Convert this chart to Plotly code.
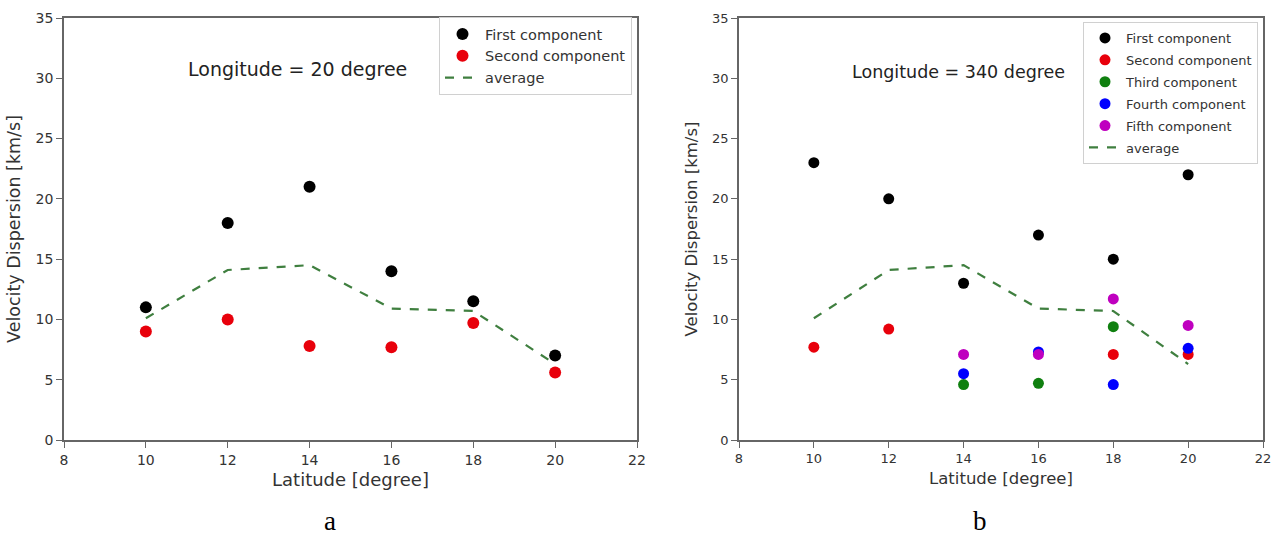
import plotly.graph_objects as go

latitudes = [10, 12, 14, 16, 18, 20]

# Panel a: Longitude = 20 degree
a_first = [11.0, 18.0, 21.0, 14.0, 11.5, 7.0]
a_second = [9.0, 10.0, 7.8, 7.7, 9.7, 5.6]
a_average = [10.1, 14.1, 14.5, 10.9, 10.7, 6.3]

# Panel b: Longitude = 340 degree
b_first_x = [10, 12, 14, 16, 18, 20]
b_first = [23.0, 20.0, 13.0, 17.0, 15.0, 22.0]
b_second_x = [10, 12, 18, 20]
b_second = [7.7, 9.2, 7.1, 7.1]
b_third_x = [14, 16, 18]
b_third = [4.6, 4.7, 9.4]
b_fourth_x = [14, 16, 18, 20]
b_fourth = [5.5, 7.3, 4.6, 7.6]
b_fifth_x = [14, 16, 18, 20]
b_fifth = [7.1, 7.1, 11.7, 9.5]
b_average = [10.1, 14.1, 14.5, 10.9, 10.7, 6.3]

x_ticks = [8, 10, 12, 14, 16, 18, 20, 22]
y_ticks = [0, 5, 10, 15, 20, 25, 30, 35]

BLACK = "#000000"
RED = "#e8000b"
GREEN = "#108010"
BLUE = "#0000ff"
MAGENTA = "#bf00bf"
AVG = "#3f7f3f"
FONT = "DejaVu Sans"
TXT = "#333333"

fig = go.Figure()

def pts(x, y, name, color, xa, ya, legend, size):
    fig.add_trace(go.Scatter(x=x, y=y, mode="markers", name=name,
                             marker=dict(color=color, size=size),
                             legendgroup=legend + name,
                             xaxis=xa, yaxis=ya, legend=legend))

def avg(x, y, xa, ya, legend):
    fig.add_trace(go.Scatter(x=x, y=y, mode="lines", name="average",
                             line=dict(color=AVG, width=2.2, dash="dash"),
                             legendgroup=legend + "average",
                             xaxis=xa, yaxis=ya, legend=legend))

pts(latitudes, a_first, "First component", BLACK, "x", "y", "legend", 12)
pts(latitudes, a_second, "Second component", RED, "x", "y", "legend", 12)
avg(latitudes, a_average, "x", "y", "legend")

pts(b_first_x, b_first, "First component", BLACK, "x2", "y2", "legend2", 11)
pts(b_second_x, b_second, "Second component", RED, "x2", "y2", "legend2", 11)
pts(b_third_x, b_third, "Third component", GREEN, "x2", "y2", "legend2", 11)
pts(b_fourth_x, b_fourth, "Fourth component", BLUE, "x2", "y2", "legend2", 11)
pts(b_fifth_x, b_fifth, "Fifth component", MAGENTA, "x2", "y2", "legend2", 11)
avg(latitudes, b_average, "x2", "y2", "legend2")

W, H = 1274, 538
ydom = [98 / H, 1 - 18 / H]

def axis_common(fs):
    return dict(showline=True, linecolor="#666666", linewidth=1.5, mirror=True,
                ticks="outside", ticklen=6, tickcolor="#666666", showgrid=False,
                zeroline=False, tickfont=dict(family=FONT, size=fs, color=TXT),
                automargin=False)

def xaxis_common(fs, tfs):
    return dict(axis_common(fs), range=[8, 22], tickvals=x_ticks,
                title=dict(text="Latitude [degree]", standoff=7,
                           font=dict(family=FONT, size=tfs, color=TXT)))

def yaxis_common(fs, tfs):
    return dict(axis_common(fs), range=[0, 35], tickvals=y_ticks,
                title=dict(text="Velocity Dispersion [km/s]", standoff=10,
                           font=dict(family=FONT, size=tfs, color=TXT)))

def legend_common(fs, gap, iw):
    return dict(bgcolor="white", bordercolor="#d0d0d0", borderwidth=1,
                font=dict(family=FONT, size=fs, color=TXT),
                xanchor="right", yanchor="top", tracegroupgap=gap,
                traceorder="grouped", itemwidth=iw)

fig.update_layout(
    width=W, height=H,
    margin=dict(l=0, r=0, t=0, b=0),
    paper_bgcolor="white", plot_bgcolor="white",
    xaxis=dict(xaxis_common(14, 18), domain=[64 / W, 637 / W], anchor="y"),
    yaxis=dict(yaxis_common(14, 17.5), domain=ydom, anchor="x"),
    xaxis2=dict(xaxis_common(13, 16.5), domain=[739 / W, 1263 / W], anchor="y2"),
    yaxis2=dict(yaxis_common(13, 16.5), domain=ydom, anchor="x2"),
    legend=dict(legend_common(14.5, 0, 35), x=632 / W, y=1 - 17 / H),
    legend2=dict(legend_common(13, 2, 32), x=1258 / W, y=1 - 22 / H),
    annotations=[
        dict(text="Longitude = 20 degree", x=297 / W, y=1 - 69 / H, xref="paper", yref="paper",
             xanchor="center", yanchor="middle",
             showarrow=False, font=dict(family=FONT, size=19, color="#222222")),
        dict(text="Longitude = 340 degree", x=958 / W, y=1 - 72 / H, xref="paper", yref="paper",
             xanchor="center", yanchor="middle",
             showarrow=False, font=dict(family=FONT, size=17.5, color="#222222")),
        dict(text="a", x=330 / W, y=1 / H, xref="paper", yref="paper",
             xanchor="center", yanchor="bottom", borderpad=0,
             showarrow=False, font=dict(family="Liberation Serif", size=27, color="#000000")),
        dict(text="b", x=980 / W, y=1 / H, xref="paper", yref="paper",
             xanchor="center", yanchor="bottom", borderpad=0,
             showarrow=False, font=dict(family="Liberation Serif", size=27, color="#000000")),
    ],
)

fig.write_html("out.html")
